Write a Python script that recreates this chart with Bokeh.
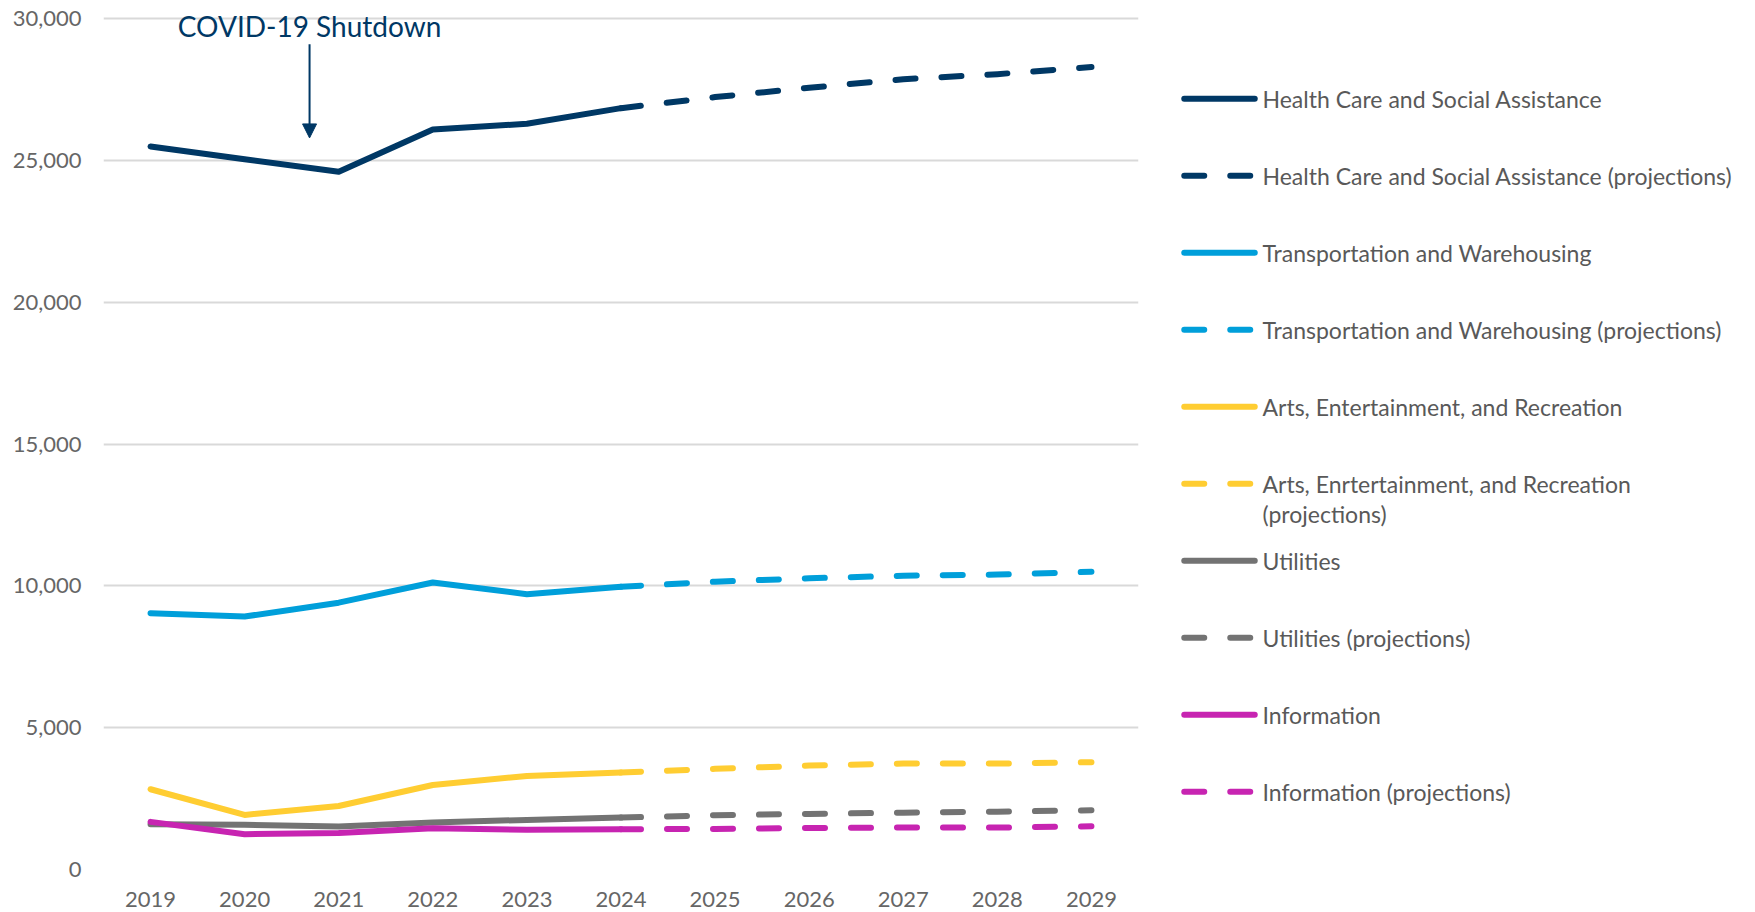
from bokeh.plotting import figure
from bokeh.models import (FactorRange, Range1d, FixedTicker, NumeralTickFormatter,
                          Arrow, NormalHead, Label)
from bokeh.layouts import row
from bokeh.embed import file_html
from bokeh.resources import INLINE
from bokeh.core.properties import value

# ---------------- data ----------------
years = ["2019", "2020", "2021", "2022", "2023", "2024",
         "2025", "2026", "2027", "2028", "2029"]
actual_years = years[:6]
proj_years = years[5:]

health = [25500, 25050, 24610, 26100, 26300, 26850]
health_proj = [26850, 27240, 27570, 27870, 28050, 28300]
transport = [9040, 8920, 9410, 10120, 9710, 9970]
transport_proj = [9970, 10150, 10270, 10360, 10400, 10500]
arts = [2830, 1925, 2240, 2980, 3300, 3420]
arts_proj = [3420, 3550, 3665, 3735, 3735, 3785]
utilities = [1600, 1580, 1515, 1655, 1750, 1830]
utilities_proj = [1830, 1915, 1960, 2005, 2040, 2090]
information = [1680, 1245, 1290, 1455, 1400, 1420]
information_proj = [1420, 1430, 1465, 1480, 1480, 1525]

y_ticks = [0, 5000, 10000, 15000, 20000, 25000, 30000]

series_names = ["Health Care and Social Assistance",
                "Transportation and Warehousing",
                "Arts, Entertainment, and Recreation",
                "Utilities",
                "Information"]
proj_names = ["Health Care and Social Assistance (projections)",
              "Transportation and Warehousing (projections)",
              "Arts, Enrtertainment, and Recreation\n(projections)",
              "Utilities (projections)",
              "Information (projections)"]
series_actual = [health, transport, arts, utilities, information]
series_proj = [health_proj, transport_proj, arts_proj, utilities_proj, information_proj]
colors = ["#003865", "#009FDA", "#FFCD32", "#737373", "#C724B1"]

annotation_text = "COVID-19 Shutdown"
annotation_year = "2020"
annotation_offset = 0.69
annotation_arrow_top = 29100
annotation_arrow_tip = 25800
annotation_text_y = 29760

FONT = "Lato"
LW = 6
DASH = "20 26"
NAVY = "#003865"

W, H = 1755, 912
MAIN_W = 1148
Y_MAX, Y_PAD = 30000, 400
TOP, BOTTOM = 7, 43

# ---------------- main chart ----------------
p = figure(x_range=FactorRange(*years), y_range=Range1d(0, Y_MAX + Y_PAD),
           width=MAIN_W, height=H, output_backend="svg", toolbar_location=None,
           min_border_left=103, min_border_right=10, min_border_top=TOP,
           min_border_bottom=BOTTOM)
p.outline_line_color = None
p.background_fill_color = "white"
p.border_fill_color = "white"
p.xgrid.grid_line_color = None
p.ygrid.grid_line_color = "#D9D9D9"
p.ygrid.grid_line_width = 2
p.yaxis.ticker = FixedTicker(ticks=y_ticks)
p.yaxis.formatter = NumeralTickFormatter(format="0,0")
for ax in (p.xaxis[0], p.yaxis[0]):
    ax.axis_line_color = None
    ax.major_tick_line_color = None
    ax.minor_tick_line_color = None
    ax.major_tick_out = 0
    ax.major_tick_in = 0
    ax.major_label_text_font = FONT
    ax.major_label_text_font_size = "22px"
    ax.major_label_text_color = "#666666"
p.yaxis.major_label_standoff = 22
p.xaxis.major_label_standoff = 22
p.xaxis.major_label_text_line_height = 0.8

for act, proj, col in zip(series_actual, series_proj, colors):
    p.line(x=actual_years, y=act, line_color=col, line_width=LW,
           line_cap="round", line_join="round")
    p.line(x=proj_years, y=proj, line_color=col, line_width=LW,
           line_cap="round", line_join="round", line_dash=DASH)

ann_x = years.index(annotation_year) + 0.5 + annotation_offset
p.add_layout(Arrow(end=NormalHead(size=14, fill_color=NAVY, line_color=NAVY),
                   x_start=ann_x, y_start=annotation_arrow_top,
                   x_end=ann_x, y_end=annotation_arrow_tip,
                   line_color=NAVY, line_width=2))
p.add_layout(Label(x=ann_x, y=annotation_text_y, text=annotation_text,
                   text_align="center", text_baseline="middle",
                   text_font=FONT, text_font_size="28px", text_color=NAVY))

# ---------------- legend panel ----------------
LG_W = W - MAIN_W
frame_bottom = H - BOTTOM
lg = figure(width=LG_W, height=H, x_range=Range1d(0, LG_W),
            y_range=Range1d(frame_bottom, TOP),
            output_backend="svg", toolbar_location=None,
            min_border_left=0, min_border_right=0,
            min_border_top=TOP, min_border_bottom=BOTTOM,
            x_axis_type=None, y_axis_type=None)
lg.outline_line_color = None
lg.grid.visible = False

row_top, row_step = 98.3, 77.0
sample_x0, sample_x1, text_x = 35.75, 106.25, 114
legend_entries = []
for i in range(len(series_names)):
    legend_entries.append((series_names[i], colors[i], None))
    legend_entries.append((proj_names[i], colors[i], DASH))

tx, ty, tt = [], [], []
for k, (name, col, dash) in enumerate(legend_entries):
    yy = row_top + k * row_step
    kw = dict(line_color=col, line_width=LW, line_cap="round")
    if dash:
        kw["line_dash"] = DASH
    lg.line(x=[sample_x0, sample_x1], y=[yy, yy], **kw)
    for j, part in enumerate(name.split("\n")):
        tx.append(text_x)
        ty.append(yy + j * 29.7)
        tt.append(part)

lg.text(x=tx, y=ty, text=tt, text_font=value(FONT), text_font_size=value("23px"),
        text_color="#595959", text_baseline="middle", text_align="left")

layout = row(p, lg)
open("out.html", "w").write(file_html(layout, INLINE))
